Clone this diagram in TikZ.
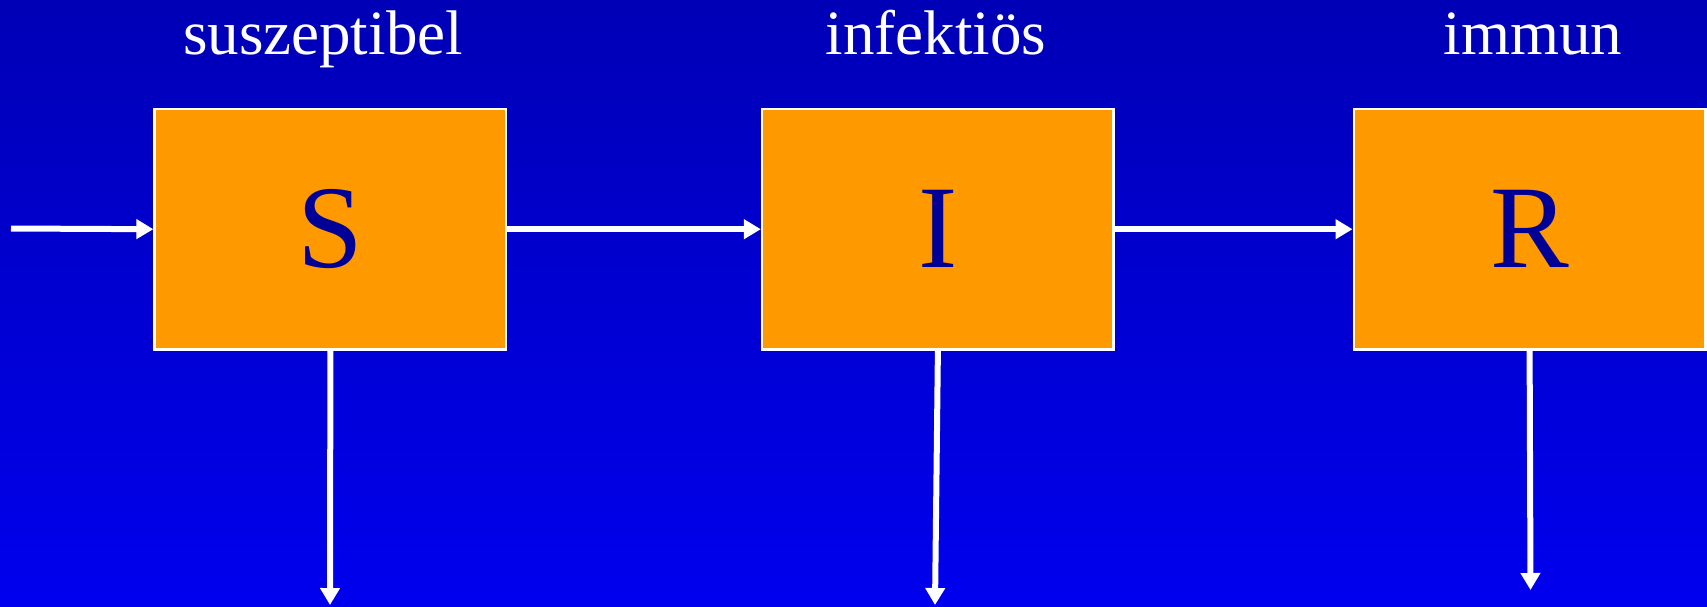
\documentclass[tikz,border=0pt]{standalone}
\usepackage{fontspec}
\setmainfont{Liberation Serif}
\usetikzlibrary{arrows.meta}
\definecolor{bgtop}{RGB}{0,0,182}
\definecolor{bgbot}{RGB}{0,0,238}
\definecolor{boxfill}{RGB}{255,153,0}
\definecolor{lettercol}{RGB}{0,0,150}
\tikzset{
  compbox/.style={rectangle, fill=boxfill, draw=white, line width=2.5pt,
    minimum width=351.6pt, minimum height=240.6pt, inner sep=0pt,
    font=\fontsize{118}{118}\selectfont, text=lettercol},
  toplabel/.style={anchor=base, text=white, inner sep=0pt,
    font=\fontsize{63}{63}\selectfont},
  flow/.style={draw=white, line width=6pt,
    -{Triangle[width=19pt,length=17pt]}}
}
\begin{document}
\begin{tikzpicture}[x=1pt,y=-1pt]
\shade[top color=bgtop, bottom color=bgbot] (0,0) rectangle (1707,606);
\useasboundingbox (0,0) rectangle (1707,606);
% boxes
\node[compbox] (S) at (330.4,229.2) {\raisebox{-4pt}{S}};
\node[compbox] (I) at (937.9,229.2) {\raisebox{-4pt}{I}};
\node[compbox] (R) at (1529.6,229.2) {\raisebox{-4pt}{R}};
% labels
\node[toplabel] (ls) at (323,54) {suszeptibel};
\node[toplabel] (li) at (936,54) {infektiös};
\node[toplabel] (lr) at (1533,54) {immun};
% free ends
\coordinate (in) at (11,228.5);
\coordinate (Sout) at (330,605);
\coordinate (Iout) at (935,605);
\coordinate (Rout) at (1530.5,590);
% connectors
\draw[flow] (in) -- (S.west);
\draw[flow] (S.east) -- (I.west);
\draw[flow] (I.east) -- (R.west);
\draw[flow] (S.south) -- (Sout);
\draw[flow] (I.south) -- (Iout);
\draw[flow] (R.south) -- (Rout);
\end{tikzpicture}
\end{document}
